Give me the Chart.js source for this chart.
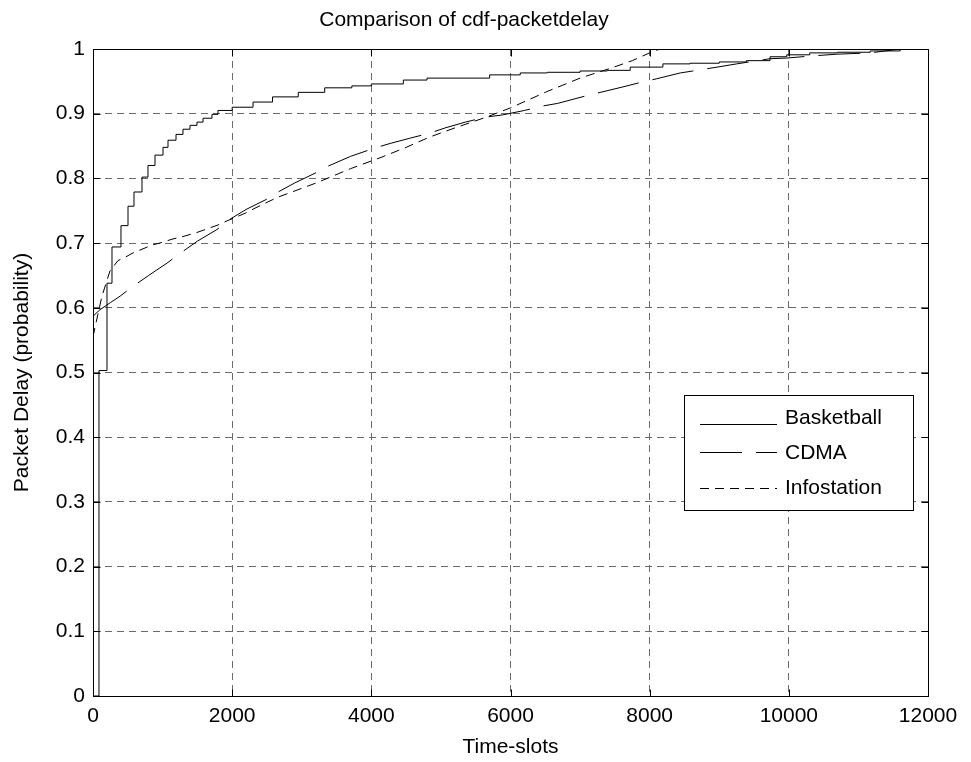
<!DOCTYPE html>
<html>
<head>
<meta charset="utf-8">
<script src="https://cdn.jsdelivr.net/npm/chart.js@4.4.1/dist/chart.umd.min.js"></script>
<style>
  html, body { margin: 0; padding: 0; background: #fff; }
  #wrap { width: 971px; height: 762px; }
</style>
</head>
<body>
<div id="wrap"><canvas id="cdf" width="971" height="762"></canvas></div>
<script>
// CDF samples (time-slots -> cumulative probability)
const basketballX = [0, 86, 201, 273, 402, 503, 589, 704, 790, 891, 1006, 1078, 1193, 1293, 1394, 1494, 1581, 1710, 1796,
  2000, 2300, 2580, 2950, 3330, 3720, 4000, 4460, 4800, 5700, 6140, 6530, 7000, 7390, 7720, 8190, 8580, 9000, 9390,
  9730, 9970, 10300, 10700, 11170, 11600];
const basketballY = [0, 0.503, 0.638, 0.694, 0.727, 0.757, 0.779, 0.802, 0.820, 0.836, 0.848, 0.859, 0.868, 0.876, 0.882,
  0.887, 0.893, 0.899, 0.905, 0.910, 0.918, 0.926, 0.933, 0.940, 0.943, 0.946, 0.952, 0.955, 0.960, 0.963, 0.964, 0.966,
  0.967, 0.972, 0.977, 0.978, 0.980, 0.982, 0.988, 0.991, 0.994, 0.995, 0.997, 1.0];

const cdmaX = [0, 100, 250, 390, 560, 800, 1063, 1250, 1500, 1782, 1940, 2200, 2500, 2660, 2900, 3190, 3380, 3700, 4050,
  4270, 4550, 4840, 5060, 5350, 5660, 5880, 6200, 6470, 6680, 7100, 7600, 7820, 8100, 8440, 8620, 8970, 9250, 9730,
  9970, 10300, 10690, 11170, 11600];
const cdmaY = [0.587, 0.597, 0.608, 0.618, 0.632, 0.650, 0.669, 0.684, 0.703, 0.721, 0.735, 0.752, 0.768, 0.779, 0.793,
  0.808, 0.819, 0.834, 0.847, 0.854, 0.862, 0.870, 0.878, 0.887, 0.895, 0.898, 0.905, 0.912, 0.916, 0.928, 0.941, 0.947,
  0.954, 0.963, 0.966, 0.972, 0.977, 0.985, 0.986, 0.989, 0.992, 0.994, 1.0];

const infostationX = [0, 29, 129, 244, 359, 460, 560, 848, 992, 1135, 1322, 1509, 1796, 1940, 2184, 2328, 2500, 2658,
  2860, 3233, 3700, 4153, 4500, 4840, 5200, 5660, 6000, 6520, 7000, 7460, 7750, 8000, 8150];
const infostationY = [0.555, 0.570, 0.618, 0.657, 0.673, 0.678, 0.684, 0.697, 0.701, 0.706, 0.711, 0.717, 0.728, 0.735,
  0.746, 0.754, 0.763, 0.771, 0.779, 0.794, 0.815, 0.833, 0.848, 0.864, 0.878, 0.895, 0.909, 0.934, 0.955, 0.971,
  0.982, 0.994, 1.0];

const xTicks = [0, 2000, 4000, 6000, 8000, 10000, 12000];
const yTicks = [0, 0.1, 0.2, 0.3, 0.4, 0.5, 0.6, 0.7, 0.8, 0.9, 1];

const FONT = "'Liberation Sans', Arial, Helvetica, sans-serif";

function toPoints(xs, ys) {
  return xs.map((x, i) => ({ x, y: ys[i] }));
}

// axes box with inward tick marks on all four sides
const axesBox = {
  id: 'axesBox',
  afterDatasetsDraw(chart) {
    const { ctx, chartArea, scales } = chart;
    const left = Math.round(chartArea.left) + 0.5;
    const right = Math.round(chartArea.right) + 0.5;
    const top = Math.round(chartArea.top) + 0.5;
    const bottom = Math.round(chartArea.bottom) + 0.5;
    const len = 7;

    ctx.save();
    ctx.strokeStyle = '#000';
    ctx.lineWidth = 1;
    ctx.setLineDash([]);
    ctx.beginPath();
    xTicks.forEach((v) => {
      const px = Math.round(scales.x.getPixelForValue(v)) + 0.5;
      ctx.moveTo(px, bottom);
      ctx.lineTo(px, bottom - len);
      ctx.moveTo(px, top);
      ctx.lineTo(px, top + len);
    });
    yTicks.forEach((v) => {
      const py = Math.round(scales.y.getPixelForValue(v)) + 0.5;
      ctx.moveTo(left, py);
      ctx.lineTo(left + len, py);
      ctx.moveTo(right, py);
      ctx.lineTo(right - len, py);
    });
    ctx.stroke();
    ctx.strokeRect(left, top, right - left, bottom - top);
    ctx.restore();
  },
};

// boxed legend inside the plot, lower right
const boxLegend = {
  id: 'boxLegend',
  afterDraw(chart) {
    const { ctx } = chart;
    const box = { x: 684.5, y: 395.5, w: 229, h: 115 };
    const rows = [424, 452, 488];
    const textRows = [418, 453, 488];

    ctx.save();
    ctx.fillStyle = '#fff';
    ctx.fillRect(box.x, box.y, box.w, box.h);
    ctx.strokeStyle = '#000';
    ctx.lineWidth = 1;
    ctx.setLineDash([]);
    ctx.strokeRect(box.x, box.y, box.w, box.h);

    chart.data.datasets.forEach((ds, i) => {
      const y = rows[i] + 0.5;
      ctx.beginPath();
      ctx.setLineDash(ds.borderDash || []);
      ctx.moveTo(700, y);
      ctx.lineTo(777, y);
      ctx.stroke();

      ctx.setLineDash([]);
      ctx.fillStyle = '#000';
      ctx.font = `21px ${FONT}`;
      ctx.textAlign = 'left';
      ctx.textBaseline = 'middle';
      ctx.fillText(ds.label, 785, textRows[i]);
    });
    ctx.restore();
  },
};

const datasets = [
  {
    label: 'Basketball',
    data: toPoints(basketballX, basketballY),
    borderColor: '#000',
    borderWidth: 1,
    borderDash: [],
    stepped: 'before',
    pointRadius: 0,
  },
  {
    label: 'CDMA',
    data: toPoints(cdmaX, cdmaY),
    borderColor: '#000',
    borderWidth: 1,
    borderDash: [42, 14],
    pointRadius: 0,
  },
  {
    label: 'Infostation',
    data: toPoints(infostationX, infostationY),
    borderColor: '#000',
    borderWidth: 1,
    borderDash: [9, 6],
    pointRadius: 0,
  },
];

const gridOpts = {
  color: '#6a6a6a',
  lineWidth: 1,
  drawTicks: false,
};

new Chart(document.getElementById('cdf'), {
  type: 'line',
  data: { datasets },
  plugins: [axesBox, boxLegend],
  options: {
    responsive: false,
    animation: false,
    events: [],
    layout: { padding: { top: 0, right: 43, bottom: 0, left: 0 } },
    plugins: {
      legend: { display: false },
      tooltip: { enabled: false },
      title: {
        display: true,
        text: 'Comparison of cdf-packetdelay',
        color: '#000',
        font: { family: FONT, size: 21, weight: 'normal', lineHeight: 1.2 },
        padding: { top: 8, bottom: 15.8 },
      },
    },
    scales: {
      x: {
        type: 'linear',
        min: 0,
        max: 12000,
        afterBuildTicks: (scale) => { scale.ticks = xTicks.map((value) => ({ value })); },
        afterFit: (scale) => { scale.height = 66; },
        grid: gridOpts,
        border: { display: false, dash: [7, 5] },
        ticks: {
          color: '#000',
          padding: 8,
          maxRotation: 0,
          font: { family: FONT, size: 21 },
          callback: (v) => String(v),
        },
        title: {
          display: true,
          text: 'Time-slots',
          color: '#000',
          font: { family: FONT, size: 21, lineHeight: 1.2 },
          padding: { top: 0, bottom: 2 },
        },
      },
      y: {
        type: 'linear',
        min: 0,
        max: 1,
        afterBuildTicks: (scale) => { scale.ticks = yTicks.map((value) => ({ value })); },
        afterFit: (scale) => { scale.width = 93; },
        grid: gridOpts,
        border: { display: false, dash: [7, 5] },
        ticks: {
          color: '#000',
          padding: 8,
          font: { family: FONT, size: 21 },
          callback: (v) => String(v),
        },
        title: {
          display: true,
          text: 'Packet Delay (probability)',
          color: '#000',
          font: { family: FONT, size: 21, lineHeight: 1.2 },
          padding: { top: 10, bottom: 0 },
        },
      },
    },
  },
});
</script>
</body>
</html>
